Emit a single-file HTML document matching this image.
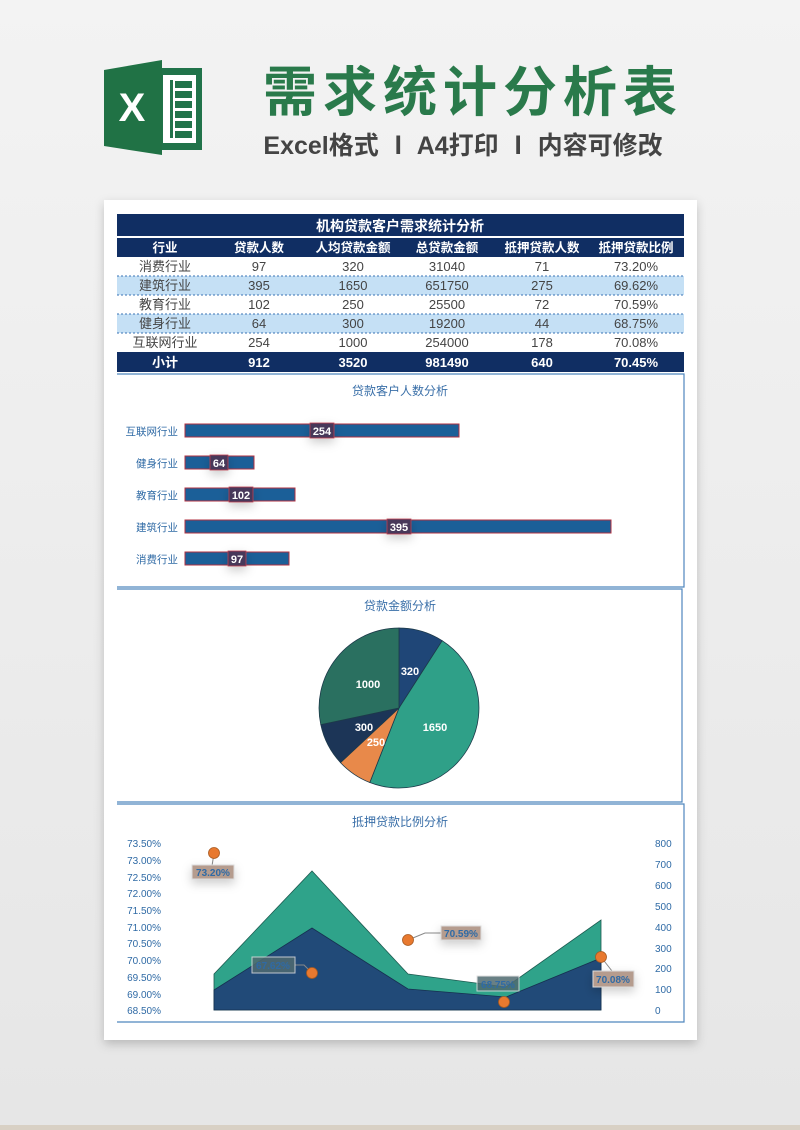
<!DOCTYPE html>
<html><head><meta charset="utf-8"><style>
body{margin:0;width:800px;height:1130px;overflow:hidden;background:#ebebeb;font-family:"Liberation Sans","Noto Sans CJK SC",sans-serif;}
svg{position:absolute;left:0;top:0}
</style></head><body>
<svg width="800" height="1130" viewBox="0 0 800 1130" xmlns="http://www.w3.org/2000/svg" font-family="Liberation Sans, Noto Sans CJK SC, sans-serif">
<defs>
<linearGradient id="bg" x1="0" y1="0" x2="0" y2="1"><stop offset="0" stop-color="#f3f3f3"/><stop offset="1" stop-color="#e6e6e6"/></linearGradient>
<filter id="sh" x="-10%" y="-10%" width="120%" height="120%"><feDropShadow dx="0" dy="4" stdDeviation="5" flood-color="#000" flood-opacity="0.2"/></filter>
</defs>
<rect width="800" height="1130" fill="url(#bg)"/>
<rect y="1125" width="800" height="5" fill="#d8d0c4"/>
<!-- icon -->
<rect x="158" y="68" width="44" height="82" fill="#21734a"/>
<g fill="#fff"><rect x="163" y="75" width="33" height="68"/></g>
<g fill="#21734a"><rect x="170" y="80" width="3" height="58"/>
<rect x="175" y="81" width="17" height="7"/><rect x="175" y="91" width="17" height="7"/><rect x="175" y="101" width="17" height="7"/><rect x="175" y="111" width="17" height="7"/><rect x="175" y="121" width="17" height="7"/><rect x="175" y="131" width="17" height="7"/></g>
<polygon points="104,70 162,60 162,155 104,146" fill="#207245"/>
<text x="132" y="121" font-size="40" font-weight="bold" fill="#fff" text-anchor="middle">X</text>
<text x="473" y="111" font-size="54" font-weight="bold" fill="#2a7a4b" text-anchor="middle" letter-spacing="6" font-family="Noto Sans CJK SC, sans-serif">需求统计分析表</text>
<text x="463" y="154" font-size="25" font-weight="bold" fill="#444" text-anchor="middle" font-family="Liberation Sans, Noto Sans CJK SC, sans-serif">Excel格式 Ⅰ A4打印 Ⅰ 内容可修改</text>
<!-- paper -->
<rect x="104" y="200" width="593" height="840" fill="#fff" filter="url(#sh)"/>
<!-- table -->
<rect x="117" y="214" width="567" height="22" fill="#102e63"/>
<text x="400" y="231" font-size="14" font-weight="bold" fill="#fff" text-anchor="middle">机构贷款客户需求统计分析</text>
<rect x="117" y="238" width="567" height="19" fill="#102e63"/>
<g font-size="12.5" font-weight="bold" fill="#fff" text-anchor="middle">
<text x="165" y="252">行业</text><text x="259" y="252">贷款人数</text><text x="353" y="252">人均贷款金额</text><text x="447" y="252">总贷款金额</text><text x="542" y="252">抵押贷款人数</text><text x="636" y="252">抵押贷款比例</text></g>
<rect x="117" y="276" width="567" height="19" fill="#c5e0f5"/>
<rect x="117" y="314" width="567" height="19" fill="#c5e0f5"/>
<g stroke="#3a73b5" stroke-dasharray="2,2" stroke-width="1"><line x1="117" y1="276" x2="684" y2="276"/><line x1="117" y1="295" x2="684" y2="295"/><line x1="117" y1="314" x2="684" y2="314"/><line x1="117" y1="333" x2="684" y2="333"/></g>
<g font-size="13" fill="#444" text-anchor="middle">
<text x="165" y="271">消费行业</text><text x="259" y="271">97</text><text x="353" y="271">320</text><text x="447" y="271">31040</text><text x="542" y="271">71</text><text x="636" y="271">73.20%</text>
<text x="165" y="290">建筑行业</text><text x="259" y="290">395</text><text x="353" y="290">1650</text><text x="447" y="290">651750</text><text x="542" y="290">275</text><text x="636" y="290">69.62%</text>
<text x="165" y="309">教育行业</text><text x="259" y="309">102</text><text x="353" y="309">250</text><text x="447" y="309">25500</text><text x="542" y="309">72</text><text x="636" y="309">70.59%</text>
<text x="165" y="328">健身行业</text><text x="259" y="328">64</text><text x="353" y="328">300</text><text x="447" y="328">19200</text><text x="542" y="328">44</text><text x="636" y="328">68.75%</text>
<text x="165" y="347">互联网行业</text><text x="259" y="347">254</text><text x="353" y="347">1000</text><text x="447" y="347">254000</text><text x="542" y="347">178</text><text x="636" y="347">70.08%</text></g>
<rect x="117" y="352" width="567" height="20" fill="#102e63"/>
<g font-size="13" font-weight="bold" fill="#fff" text-anchor="middle">
<text x="165" y="367">小计</text><text x="259" y="367">912</text><text x="353" y="367">3520</text><text x="447" y="367">981490</text><text x="542" y="367">640</text><text x="636" y="367">70.45%</text></g>
<!-- bar chart -->
<g fill="none" stroke="#4f86bd" stroke-width="1.2"><polyline points="117,374 684,374 684,587 117,587"/><polyline points="117,589 682,589 682,802 117,802"/><polyline points="117,804 684,804 684,1022 117,1022"/></g>
<text x="400" y="395" font-size="12" fill="#3a6fa8" text-anchor="middle">贷款客户人数分析</text>
<g font-size="10.5" fill="#2f6aa5" text-anchor="end"><text x="178" y="435">互联网行业</text><text x="178" y="467">健身行业</text><text x="178" y="499">教育行业</text><text x="178" y="531">建筑行业</text><text x="178" y="563">消费行业</text></g>
<g fill="#1b5f98" stroke="#b03040" stroke-width="1"><rect x="185" y="424" width="274" height="13"/><rect x="185" y="456" width="69" height="13"/><rect x="185" y="488" width="110" height="13"/><rect x="185" y="520" width="426" height="13"/><rect x="185" y="552" width="104" height="13"/></g>
<g fill="#47375a" stroke="#c04050" stroke-width="0.8" filter="url(#sh)"><rect x="310" y="423" width="24" height="15"/><rect x="210" y="455" width="18" height="15"/><rect x="229" y="487" width="24" height="15"/><rect x="387" y="519" width="24" height="15"/><rect x="228" y="551" width="18" height="15"/></g>
<g font-size="11" font-weight="bold" fill="#fff" text-anchor="middle"><text x="322" y="435">254</text><text x="219" y="467">64</text><text x="241" y="499">102</text><text x="399" y="531">395</text><text x="237" y="563">97</text></g>
<!-- pie -->
<text x="400" y="610" font-size="12" fill="#3a6fa8" text-anchor="middle">贷款金额分析</text>
<g stroke="#1d3a4a" stroke-width="0.8">
<path d="M399,708 L399,628 A80,80 0 0 1 442.2,640.7 Z" fill="#1f4677"/>
<path d="M399,708 L442.2,640.7 A80,80 0 0 1 369.8,782.5 Z" fill="#2fa088"/>
<path d="M399,708 L369.8,782.5 A80,80 0 0 1 340.5,762.6 Z" fill="#e8894a"/>
<path d="M399,708 L340.5,762.6 A80,80 0 0 1 320.8,724.7 Z" fill="#1c3557"/>
<path d="M399,708 L320.8,724.7 A80,80 0 0 1 399,628 Z" fill="#2a7060"/>
</g>
<g font-size="11" font-weight="bold" fill="#fff" text-anchor="middle"><text x="410" y="675">320</text><text x="368" y="688">1000</text><text x="435" y="731">1650</text><text x="364" y="731">300</text><text x="376" y="746">250</text></g>
<!-- area chart -->
<text x="400" y="826" font-size="12" fill="#3a6fa8" text-anchor="middle">抵押贷款比例分析</text>
<g font-size="10" fill="#2f6aa5" text-anchor="end">
<text x="161" y="847">73.50%</text><text x="161" y="864">73.00%</text><text x="161" y="881">72.50%</text><text x="161" y="897">72.00%</text><text x="161" y="914">71.50%</text><text x="161" y="931">71.00%</text><text x="161" y="947">70.50%</text><text x="161" y="964">70.00%</text><text x="161" y="981">69.50%</text><text x="161" y="998">69.00%</text><text x="161" y="1014">68.50%</text></g>
<g font-size="10" fill="#2f6aa5"><text x="655" y="847">800</text><text x="655" y="868">700</text><text x="655" y="889">600</text><text x="655" y="910">500</text><text x="655" y="931">400</text><text x="655" y="952">300</text><text x="655" y="972">200</text><text x="655" y="993">100</text><text x="655" y="1014">0</text></g>
<polygon points="214,974 312,871 408,974 506,987 601,920 601,1010 214,1010" fill="#2fa38a" stroke="#1d5a50" stroke-width="0.8"/>
<polygon points="214,990 312,928 408,989 506,997 601,958 601,1010 214,1010" fill="#214a78" stroke="#163050" stroke-width="0.8"/>
<g stroke="#888" stroke-width="1" fill="none"><polyline points="214,853 212,866"/><polyline points="312,973 304,965 295,965"/><polyline points="408,940 425,933 441,933"/><polyline points="601,957 612,971"/></g>
<g fill="#b59c8e" stroke="#ddd" stroke-width="1" filter="url(#sh)"><rect x="192" y="865" width="42" height="14"/><rect x="441" y="926" width="40" height="14"/><rect x="593" y="971" width="41" height="16"/></g>
<g fill="#4f6a70" stroke="#ddd" stroke-width="1" opacity="0.85"><rect x="252" y="957" width="43" height="16"/><rect x="477" y="976" width="42" height="15"/></g>
<g font-size="10" font-weight="bold" fill="#2f6aa5" text-anchor="middle"><text x="213" y="876">73.20%</text><text x="461" y="937">70.59%</text><text x="613" y="983">70.08%</text><text x="273" y="969">67.62%</text><text x="498" y="988">68.75%</text></g>
<g fill="#e8792f" stroke="#a85a20" stroke-width="0.8"><circle cx="214" cy="853" r="5.5"/><circle cx="312" cy="973" r="5.5"/><circle cx="408" cy="940" r="5.5"/><circle cx="504" cy="1002" r="5.5"/><circle cx="601" cy="957" r="5.5"/></g>
</svg>
</body></html>
